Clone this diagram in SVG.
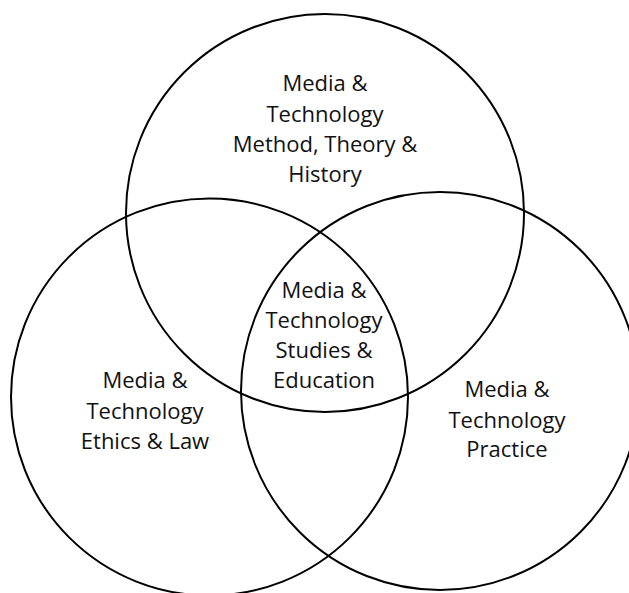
<svg xmlns="http://www.w3.org/2000/svg" width="629" height="593" viewBox="0 0 629 593">
<style>
.c{fill:none;stroke:#000;stroke-width:2}
.t{font-family:"Open Sans","Liberation Sans",sans-serif;font-size:22px;fill:#111;text-anchor:middle}
</style>
<rect width="629" height="593" fill="#fff"/>
<g id="connectors"></g>
<g id="top">
<circle class="c" cx="325" cy="213" r="199"/>
<text class="t" x="325" y="91">Media &amp;</text>
<text class="t" x="325" y="122">Technology</text>
<text class="t" x="325" y="152">Method, Theory &amp;</text>
<text class="t" x="325" y="182">History</text>
</g>
<g id="left">
<circle class="c" cx="209.5" cy="397" r="198.5"/>
<text class="t" x="145" y="388">Media &amp;</text>
<text class="t" x="145" y="419">Technology</text>
<text class="t" x="145" y="449">Ethics &amp; Law</text>
</g>
<g id="right">
<circle class="c" cx="440" cy="391" r="199"/>
<text class="t" x="507" y="397">Media &amp;</text>
<text class="t" x="507" y="428">Technology</text>
<text class="t" x="507" y="457">Practice</text>
</g>
<g id="center">
<text class="t" x="324" y="298">Media &amp;</text>
<text class="t" x="324" y="328">Technology</text>
<text class="t" x="324" y="358">Studies &amp;</text>
<text class="t" x="324" y="388">Education</text>
</g>
</svg>
